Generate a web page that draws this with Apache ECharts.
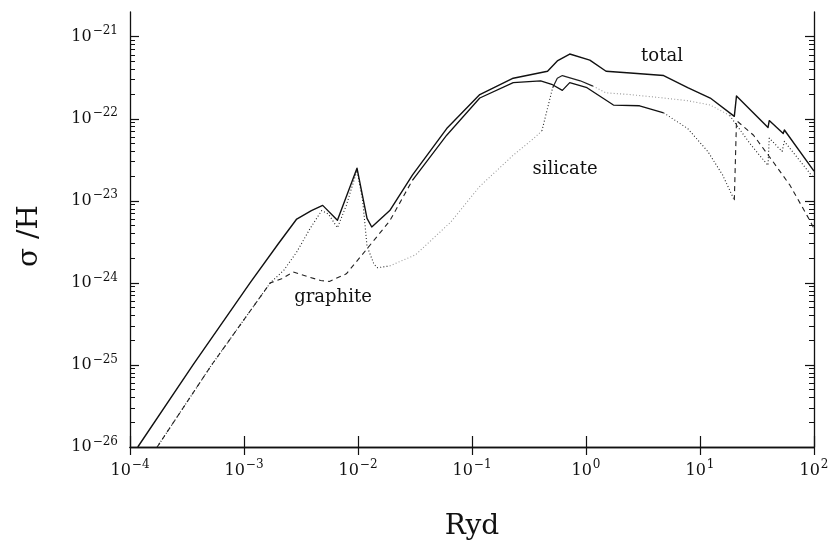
<!DOCTYPE html>
<html>
<head>
<meta charset="utf-8">
<script src="https://cdn.jsdelivr.net/npm/echarts@6/dist/echarts.min.js"></script>
<style>
  html, body { margin: 0; padding: 0; background: #fff; }
  #chart { width: 833px; height: 549px; }
</style>
</head>
<body>
<div id="chart"></div>
<script>
// Photon energy (Ryd) and absorption cross section per H nucleon (cm^2)
const totalRyd = [1.17e-4, 3.57e-4, 1.13e-3, 2.0e-3, 2.9e-3, 3.9e-3, 4.9e-3, 6.6e-3, 9.8e-3,
  1.2e-2, 1.32e-2, 1.9e-2, 3.0e-2, 6.0e-2, 0.117, 0.23, 0.46, 0.56, 0.72, 1.08, 1.5, 2.45, 4.8, 7.8,
  12.3, 20.0, 20.9, 39.5, 40.5, 53.7, 55.0, 100];
const totalSigma = [1.0e-26, 1.0e-25, 1.0e-24, 3.0e-24, 6.0e-24, 7.6e-24, 8.8e-24, 5.8e-24, 2.5e-23,
  6.1e-24, 4.8e-24, 7.6e-24, 2.06e-23, 7.6e-23, 1.97e-22, 3.12e-22, 3.79e-22, 5.07e-22, 6.15e-22, 5.19e-22, 3.79e-22, 3.61e-22, 3.36e-22, 2.39e-22,
  1.79e-22, 1.07e-22, 1.9e-22, 7.8e-23, 9.5e-23, 6.6e-23, 7.3e-23, 2.3e-23];

const graphiteRyd = [1.73e-4, 5.2e-4, 1.7e-3, 2.14e-3, 2.7e-3, 3.55e-3, 4.7e-3, 5.6e-3,
  7.9e-3, 1.2e-2, 1.9e-2, 3.0e-2, 6.0e-2, 0.117, 0.23, 0.40, 0.50, 0.62, 0.72, 1.02, 1.74, 2.95, 4.8,
  7.8, 11.7, 15.8, 20.0, 20.9, 29.5, 43.7, 61.7, 87, 100];
const graphiteSigma = [1.0e-26, 1.0e-25, 1.0e-24, 1.12e-24, 1.36e-24, 1.2e-24, 1.07e-24, 1.04e-24,
  1.29e-24, 2.6e-24, 5.7e-24, 1.78e-23, 6.3e-23, 1.79e-22, 2.76e-22, 2.9e-22, 2.63e-22, 2.22e-22, 2.76e-22, 2.39e-22, 1.47e-22, 1.44e-22, 1.18e-22,
  7.6e-23, 4.0e-23, 2.06e-23, 1.02e-23, 9.5e-23, 6.3e-23, 3.0e-23, 1.54e-23, 6.6e-24, 4.6e-24];

const silicateRyd = [1.73e-4, 5.2e-4, 1.7e-3, 2.24e-3, 2.9e-3, 3.8e-3, 4.8e-3, 5.5e-3,
  6.6e-3, 7.9e-3, 9.8e-3, 1.1e-2, 1.2e-2, 1.38e-2, 1.48e-2, 1.9e-2, 3.2e-2, 6.5e-2, 0.117, 0.23, 0.35, 0.41,
  0.51, 0.56, 0.62, 0.89, 1.15, 1.5, 2.45, 4.8, 7.8, 12.3, 18.2, 20.9, 28, 39.5, 40.5, 52.5, 55, 100];
const silicateSigma = [1.0e-26, 1.0e-25, 1.0e-24, 1.43e-24, 2.38e-24, 4.6e-24, 7.6e-24, 6.9e-24,
  4.7e-24, 8.8e-24, 2.35e-23, 1.0e-23, 2.8e-24, 1.69e-24, 1.53e-24, 1.61e-24, 2.2e-24, 5.5e-24, 1.5e-23, 3.6e-23, 5.8e-23, 7.1e-23,
  2.39e-22, 3.12e-22, 3.36e-22, 2.9e-22, 2.5e-22, 2.07e-22, 1.97e-22, 1.79e-22, 1.66e-22, 1.47e-22, 1.1e-22, 8.4e-23, 4.8e-23, 2.7e-23, 5.8e-23, 4.0e-23, 5.3e-23, 1.87e-23];

// Axis decades and their labels
const xTickValues = [1e-4, 1e-3, 1e-2, 1e-1, 1e0, 1e1, 1e2];
const yTickValues = [1e-26, 1e-25, 1e-24, 1e-23, 1e-22, 1e-21];
const xRange = [1e-4, 1e2];
const yRange = [1e-26, 2e-21];

const SERIF = '"DejaVu Serif", "Liberation Serif", serif';

function expLabel(e) {
  return '{b|10}{s|' + (e < 0 ? '\u2212' : '') + Math.abs(e) + '}';
}

function powerLabel(v, ticks) {
  const hit = ticks.find(t => Math.abs(Math.log10(t) - Math.log10(v)) < 1e-6);
  if (hit === undefined) return '';
  return expLabel(Math.round(Math.log10(hit)));
}

// helper axes in log10 units carry the y decade labels and the 2..9 minor ticks
const yLogMin = Math.log10(yRange[0]);
const yLogMax = Math.log10(yRange[1]);
const yMajorLog = yTickValues.map(v => Math.round(Math.log10(v)));
const yMinorLog = [];
yMajorLog.forEach(d => {
  for (let k = 2; k <= 9; k++) {
    const v = d + Math.log10(k);
    if (v < yLogMax) yMinorLog.push(v);
  }
});

function pick(xs, ys, lo, hi) {
  const out = [];
  for (let i = 0; i < xs.length; i++) {
    if (xs[i] >= lo && xs[i] <= hi) out.push([xs[i], ys[i]]);
  }
  return out;
}

const DOT = [1, 2.2];
const DASH = [5, 4];

function curve(name, data, color, width, type) {
  return {
    name: name,
    type: 'line',
    data: data,
    symbol: 'none',
    showSymbol: false,
    xAxisIndex: 0,
    yAxisIndex: 0,
    silent: true,
    lineStyle: { color: color, width: width, type: type, cap: 'butt', join: 'round' }
  };
}

const richTick = {
  b: { fontFamily: SERIF, fontSize: 16, color: '#111', lineHeight: 20 },
  s: { fontFamily: SERIF, fontSize: 12, color: '#111', padding: [0, 0, 11, 1] }
};

const frameLine = { show: true, lineStyle: { color: '#111', width: 1.3 } };
const noLine = { show: false };

const chart = echarts.init(document.getElementById('chart'), null, { renderer: 'canvas' });

chart.setOption({
  animation: false,
  backgroundColor: '#fff',
  grid: { left: 130, right: 19, top: 12, bottom: 102, containLabel: false, outerBoundsMode: 'none' },
  xAxis: [
    {
      type: 'log', logBase: 10, min: xRange[0], max: xRange[1], interval: 1,
      position: 'bottom',
      name: 'Ryd', nameLocation: 'middle', nameGap: 66,
      nameTextStyle: { fontFamily: SERIF, fontSize: 28, color: '#111' },
      axisLine: frameLine,
      axisTick: { show: true, inside: true, length: 11, lineStyle: { color: '#111', width: 1.2 } },
      axisLabel: { margin: 12, showMinLabel: true, showMaxLabel: true, hideOverlap: false,
        formatter: v => powerLabel(v, xTickValues), rich: richTick },
      splitLine: { show: false }, minorTick: { show: false }
    },
    {
      type: 'log', logBase: 10, min: xRange[0], max: xRange[1], interval: 1,
      position: 'top',
      axisLine: frameLine,
      axisTick: { show: true, inside: true, length: 8, lineStyle: { color: '#111', width: 1.2 } },
      axisLabel: { show: false },
      splitLine: { show: false }
    }
  ],
  yAxis: [
    {
      type: 'log', logBase: 10, min: yRange[0], max: yRange[1], interval: 1,
      position: 'left',
      axisLine: frameLine,
      axisTick: { show: true, inside: true, length: 9, lineStyle: { color: '#111', width: 1.2 } },
      axisLabel: { show: false },
      splitLine: { show: false }
    },
    {
      type: 'value', min: yLogMin, max: yLogMax,
      position: 'left',
      axisLine: noLine,
      axisTick: { show: true, inside: true, length: 5, customValues: yMinorLog, lineStyle: { color: '#111', width: 1 } },
      axisLabel: { show: true, margin: 12, customValues: yMajorLog, showMinLabel: true, showMaxLabel: true,
        hideOverlap: false, formatter: v => expLabel(Math.round(v)), rich: richTick },
      splitLine: { show: false }
    },
    {
      type: 'log', logBase: 10, min: yRange[0], max: yRange[1], interval: 1,
      position: 'right',
      axisLine: frameLine,
      axisTick: { show: true, inside: true, length: 9, lineStyle: { color: '#111', width: 1.2 } },
      axisLabel: { show: false },
      splitLine: { show: false }
    },
    {
      type: 'value', min: yLogMin, max: yLogMax,
      position: 'right',
      axisLine: noLine,
      axisTick: { show: true, inside: true, length: 5, customValues: yMinorLog, lineStyle: { color: '#111', width: 1 } },
      axisLabel: { show: false },
      splitLine: { show: false }
    }
  ],
  series: [
    // silicate: dotted, lighter where the trace was drawn sparsely
    curve('silicate', pick(silicateRyd, silicateSigma, 1e-4, 1.9e-2), '#222', 1.1, DOT),
    curve('silicate', pick(silicateRyd, silicateSigma, 1.9e-2, 0.41), '#9a9a9a', 1.1, DOT),
    curve('silicate', pick(silicateRyd, silicateSigma, 0.41, 0.51), '#222', 1.1, DOT),
    curve('silicate', pick(silicateRyd, silicateSigma, 0.51, 1.15), '#222', 1.2, 'solid'),
    curve('silicate', pick(silicateRyd, silicateSigma, 1.15, 18.2), '#9a9a9a', 1.1, DOT),
    curve('silicate', pick(silicateRyd, silicateSigma, 18.2, 100), '#222', 1.1, DOT),
    // graphite: dashed, solid through the optical/UV peak, dotted below the carbon K edge
    curve('graphite', pick(graphiteRyd, graphiteSigma, 1e-4, 3.0e-2), '#222', 1.1, DASH),
    curve('graphite', pick(graphiteRyd, graphiteSigma, 3.0e-2, 4.8), '#111', 1.3, 'solid'),
    curve('graphite', pick(graphiteRyd, graphiteSigma, 4.8, 20.0), '#222', 1.1, DOT),
    curve('graphite', pick(graphiteRyd, graphiteSigma, 20.0, 100), '#222', 1.1, DASH),
    // total
    curve('total', pick(totalRyd, totalSigma, 1e-4, 100), '#111', 1.4, 'solid')
  ],
  graphic: [
    { type: 'text', x: 30, y: 236, rotation: Math.PI / 2,
      style: { text: '\u03c3 /H', font: '28px ' + SERIF, fill: '#111', align: 'center', verticalAlign: 'middle' } },
    { type: 'text', x: 662, y: 56, style: { text: 'total', font: '18px ' + SERIF, fill: '#111', align: 'center', verticalAlign: 'middle' } },
    { type: 'text', x: 565, y: 169, style: { text: 'silicate', font: '18px ' + SERIF, fill: '#111', align: 'center', verticalAlign: 'middle' } },
    { type: 'text', x: 333, y: 297, style: { text: 'graphite', font: '18px ' + SERIF, fill: '#111', align: 'center', verticalAlign: 'middle' } }
  ]
});
</script>
</body>
</html>
